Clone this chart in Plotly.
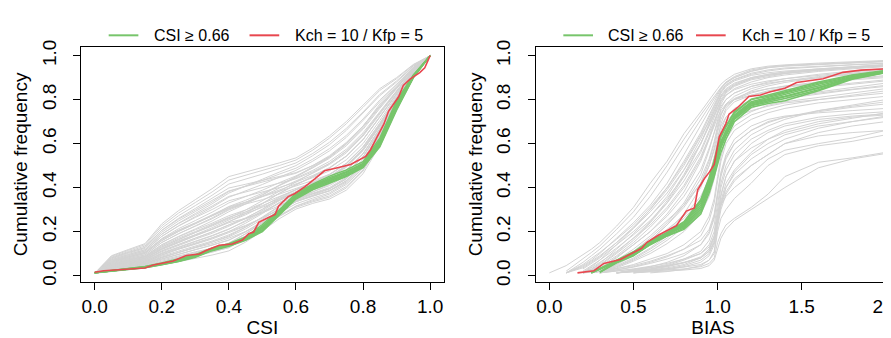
import plotly.graph_objects as go

N = None

# ---------------- Left panel: CSI ----------------
CSI_X = [0, .05, .1, .15, .2, .25, .3, .35, .4, .45, .5, .55, .6, .65, .7, .75, .8, .85, .9, .95, 1.0]

CSI_GRAY_01 = [.01, .019, .027, .034, .048, .062, .077, .093, .112, .152, .203, .258, .302, .328, .348, .388, .463, .592, .752, .901, 1]
CSI_GRAY_02 = [.01, .022, .031, .04, .056, .075, .092, .108, .126, .17, .216, .27, .315, .34, .362, .405, .48, .61, .76, .904, 1]
CSI_GRAY_03 = [.01, .027, .036, .046, .07, .09, .108, .124, .146, .18, .222, .268, .31, .335, .356, .398, .475, .6, .756, .902, 1]
CSI_GRAY_04 = [.01, .028, .04, .05, .074, .095, .115, .136, .16, .2, .246, .298, .342, .37, .395, .44, .515, .64, .778, .91, 1]
CSI_GRAY_05 = [.01, .03, .043, .054, .082, .105, .128, .15, .176, .212, .256, .304, .345, .374, .4, .446, .52, .64, .78, .912, 1]
CSI_GRAY_06 = [.01, .035, .048, .06, .092, .12, .142, .166, .195, .225, .262, .3, .336, .36, .385, .43, .505, .628, .772, .909, 1]
CSI_GRAY_07 = [.01, .038, .052, .065, .1, .128, .154, .18, .21, .25, .295, .34, .38, .41, .445, .492, .568, .678, .8, .92, 1]
CSI_GRAY_08 = [.01, .043, .058, .072, .112, .142, .17, .198, .23, .258, .29, .328, .36, .39, .42, .466, .54, .656, .79, .915, 1]
CSI_GRAY_09 = [.01, .046, .062, .077, .12, .152, .182, .21, .245, .276, .314, .356, .392, .425, .46, .51, .585, .692, .81, .924, 1]
CSI_GRAY_10 = [.01, .05, .068, .084, .13, .165, .196, .228, .262, .298, .34, .385, .425, .466, .51, .566, .64, .74, .836, .935, 1]
CSI_GRAY_11 = [.01, .054, .072, .088, .14, .176, .208, .238, .272, .298, .328, .36, .39, .418, .448, .5, .575, .685, .805, .922, 1]
CSI_GRAY_12 = [.01, .058, .076, .094, .15, .19, .224, .258, .298, .327, .36, .397, .43, .465, .505, .558, .634, .733, .832, .933, 1]
CSI_GRAY_13 = [.01, .06, .08, .1, .158, .2, .235, .27, .308, .332, .36, .39, .418, .445, .476, .526, .6, .705, .818, .927, 1]
CSI_GRAY_14 = [.01, .064, .086, .106, .168, .213, .25, .288, .33, .358, .388, .422, .453, .49, .533, .59, .665, .76, .848, .939, 1]
CSI_GRAY_15 = [.01, .068, .09, .112, .178, .226, .268, .31, .356, .384, .414, .447, .478, .52, .567, .628, .705, .79, .866, .946, 1]
CSI_GRAY_16 = [.01, .072, .095, .117, .188, .236, .276, .316, .36, .38, .4, .42, .44, .472, .51, .565, .64, .74, .836, .934, 1]
CSI_GRAY_17 = [.01, .076, .1, .123, .197, .248, .291, .334, .382, .406, .432, .461, .488, .529, .577, .637, .712, .798, .87, .948, 1]
CSI_GRAY_18 = [.01, .08, .105, .128, .206, .26, .305, .35, .398, .415, .432, .45, .468, .5, .54, .6, .68, .772, .855, .942, 1]
CSI_GRAY_19 = [.01, .083, .109, .134, .216, .272, .318, .365, .416, .438, .461, .486, .512, .555, .606, .669, .744, .824, .885, .954, 1]
CSI_GRAY_20 = [.01, .087, .114, .14, .226, .284, .332, .38, .434, .455, .478, .5, .525, .57, .625, .69, .765, .842, .895, .958, 1]
CSI_GRAY_21 = [.01, .09, .118, .145, .235, .295, .345, .395, .45, .47, .49, .512, .535, .58, .635, .70, .775, .85, .90, .96, 1]
CSI_GRAY_22 = [.01, .029, .04, .05, .076, .098, .118, .138, .162, .198, .242, .293, .336, .362, .387, .432, .506, .628, .772, .91, 1]
CSI_GRAY_23 = [.01, .036, .049, .061, .094, .12, .145, .17, .2, .238, .282, .33, .372, .41, .45, .5, .575, .685, .805, .922, 1]
CSI_GRAY_24 = [.01, .043, .058, .072, .112, .142, .17, .198, .23, .262, .3, .345, .382, .414, .447, .496, .57, .68, .802, .921, 1]
CSI_GRAY_25 = [.01, .05, .067, .083, .13, .164, .195, .225, .258, .282, .31, .342, .372, .4, .43, .478, .553, .666, .795, .918, 1]
CSI_GRAY_26 = [.01, .025, .035, .044, .065, .085, .104, .124, .148, .19, .238, .292, .336, .366, .394, .44, .514, .636, .776, .91, 1]
CSI_GRAY_27 = [.01, .022, .03, .038, .055, .072, .09, .106, .128, .168, .217, .272, .316, .345, .37, .414, .488, .612, .762, .905, 1]
CSI_GRAY_28 = [.01, .057, .076, .094, .15, .19, .226, .262, .302, .333, .368, .41, .448, .49, .537, .597, .672, .766, .852, .941, 1]
CSI_GRAY_29 = [.01, .04, .054, .067, .103, .131, .156, .182, .212, .246, .287, .332, .371, .402, .432, .48, .555, .668, .795, .918, 1]
CSI_GRAY_30 = [.01, .032, .044, .055, .084, .106, .126, .145, .17, .2, .24, .285, .326, .352, .376, .42, .495, .618, .766, .906, 1]
CSI_GRAY_31 = [.01, .047, .063, .078, .122, .155, .186, .217, .253, .288, .328, .373, .412, .448, .488, .542, .618, .722, .828, .932, 1]
CSI_GRAY_32 = [.01, .063, .084, .104, .165, .206, .24, .275, .312, .334, .358, .384, .408, .432, .46, .51, .585, .692, .81, .924, 1]
CSI_GRAY_33 = [.01, .031, .042, .053, .08, .104, .128, .152, .18, .22, .266, .316, .36, .39, .418, .465, .54, .657, .788, .916, 1]
CSI_GRAY_34 = [.01, .039, .052, .064, .098, .124, .148, .172, .2, .228, .262, .302, .34, .362, .384, .425, .5, .625, .77, .908, 1]
CSI_GRAY_35 = [.01, .045, .061, .076, .118, .15, .18, .21, .244, .282, .326, .374, .413, .45, .49, .543, .618, .72, .825, .93, 1]
CSI_GRAY_36 = [.01, .052, .07, .086, .135, .17, .2, .232, .265, .29, .318, .35, .378, .404, .432, .478, .552, .668, .795, .918, 1]
CSI_GRAY_37 = [.01, .061, .081, .1, .159, .201, .237, .273, .314, .342, .374, .409, .441, .478, .519, .574, .649, .746, .84, .936, 1]
CSI_GRAY_38 = [.01, .068, .09, .111, .178, .225, .264, .3, .34, .36, .38, .4, .425, .455, .49, .543, .618, .72, .825, .93, 1]
CSI_GRAY_39 = [.01, .034, .046, .058, .088, .112, .134, .157, .185, .22, .264, .312, .352, .381, .409, .454, .528, .647, .783, .913, 1]
CSI_GRAY_40 = [.01, .042, .056, .07, .108, .138, .165, .192, .224, .26, .302, .35, .39, .422, .458, .508, .583, .69, .81, .924, 1]
CSI_GRAY_41 = [.01, .024, .033, .042, .062, .082, .1, .12, .145, .19, .24, .295, .345, .38, .415, .465, .54, .66, .795, .918, 1]
CSI_GRAY_42 = [.01, .048, .064, .08, .125, .158, .185, .21, .24, .26, .285, .318, .35, .372, .395, .44, .515, .64, .778, .91, 1]
CSI_GRAY_43 = [.01, .079, .104, .127, .205, .256, .298, .34, .385, .405, .425, .445, .465, .5, .545, .605, .68, .77, .855, .94, 1]
CSI_GRAY_44 = [.01, .054, .072, .089, .14, .178, .212, .248, .29, .325, .365, .41, .45, .495, .54, .6, .678, .78, .862, .944, 1]
CSI_GRAY_45 = [.01, .064, .085, .105, .165, .205, .238, .27, .305, .325, .345, .37, .395, .42, .448, .495, .57, .68, .805, .92, 1]
CSI_GRAY_46 = [.01, .072, .095, .117, .188, .238, .282, .326, .375, .405, .438, .47, .5, .545, .595, .66, .737, .818, .88, .952, 1]

CSI_GREEN_1 = [.013, .022, .03, .038, .052, .068, .088, .118, .138, .165, .215, .285, .36, .4, .43, .46, .5, .6, .77, .905, 1]
CSI_GREEN_2 = [.012, .021, .029, .036, .05, .065, .085, .115, .135, .162, .205, .278, .352, .395, .425, .455, .495, .59, .76, .9, 1]
CSI_GREEN_3 = [.014, .023, .031, .04, .055, .072, .092, .122, .142, .17, .225, .292, .368, .41, .445, .472, .51, .615, .785, .91, 1]
CSI_GREEN_4 = [.013, .022, .029, .037, .051, .066, .086, .12, .14, .168, .22, .288, .362, .405, .438, .468, .505, .605, .775, .906, 1]
CSI_GREEN_5 = [.012, .02, .028, .035, .049, .064, .083, .113, .133, .16, .2, .275, .348, .39, .42, .45, .49, .585, .752, .9, 1]
CSI_GREEN_6 = [.014, .024, .032, .041, .057, .075, .095, .125, .145, .175, .232, .298, .375, .415, .452, .48, .518, .625, .795, .912, 1]
CSI_GREEN_7 = [.013, .023, .031, .039, .054, .07, .09, .12, .14, .168, .218, .29, .365, .408, .44, .47, .508, .61, .78, .908, 1]
CSI_GREEN_8 = [.012, .021, .029, .037, .052, .067, .087, .116, .137, .163, .21, .282, .356, .398, .432, .462, .5, .597, .765, .903, 1]

CSI_RED_X = [0, .027, .15, .175, .234, .273, .312, .332, .371, .41, .44, .459, .474, .489, .518, .538, .548, .577,
             .597, .626, .656, .685, .724, .763, .808, .822, .842, .862, .876, .906, .92, .94, .969, .984, 1.0]
CSI_RED_Y = [.015, .022, .034, .048, .066, .091, .098, .114, .138, .143, .161, .19, .198, .242, .264, .278, .315, .359,
             .373, .403, .439, .476, .49, .505, .542, .571, .63, .688, .747, .813, .864, .893, .923, .945, 1.0]

# ---------------- Right panel: BIAS ----------------
BIAS_X = [0, .1, .2, .25, .3, .4, .5, .6, .7, .8, .9, .95, .98, 1.0, 1.02, 1.05, 1.1, 1.2, 1.3, 1.4, 1.6, 1.8, 2.0]

BIAS_GRAY_A1 = [.012, .045, .095, .12, .15, .225, .31, .42, .52, .645, .745, .8, .83, .85, .87, .89, .915, .94, .952, .958, .966, .972, .978]
BIAS_GRAY_A2 = [N, .02, .075, .105, .135, .21, .29, .39, .5, .62, .73, .785, .815, .835, .855, .88, .905, .935, .948, .955, .962, .968, .975]
BIAS_GRAY_A3 = [N, .012, .06, .09, .12, .19, .265, .36, .47, .59, .71, .77, .805, .83, .852, .878, .9, .928, .945, .952, .96, .966, .972]
BIAS_GRAY_A4 = [N, .012, .045, .07, .1, .17, .24, .32, .42, .55, .68, .75, .79, .82, .848, .875, .9, .93, .946, .954, .962, .968, .975]
BIAS_GRAY_A5 = [N, N, .015, .04, .07, .14, .215, .3, .4, .52, .65, .73, .775, .81, .84, .868, .892, .92, .935, .944, .952, .96, .966]
BIAS_GRAY_A6 = [N, N, .012, .03, .055, .12, .19, .27, .36, .48, .62, .71, .76, .795, .83, .86, .885, .91, .922, .93, .94, .95, .958]
BIAS_GRAY_A7 = [N, N, .012, .025, .045, .1, .16, .24, .33, .45, .6, .69, .745, .785, .82, .85, .875, .9, .915, .925, .937, .948, .955]
BIAS_GRAY_B1 = [N, N, .012, .02, .035, .08, .14, .2, .28, .38, .52, .62, .69, .74, .78, .82, .85, .88, .9, .912, .928, .94, .95]
BIAS_GRAY_B2 = [N, N, N, .012, .025, .065, .11, .17, .24, .33, .46, .57, .65, .71, .76, .8, .83, .86, .88, .895, .915, .93, .942]
BIAS_GRAY_B3 = [N, N, .012, .018, .03, .07, .12, .18, .25, .32, .42, .52, .6, .67, .73, .78, .815, .85, .87, .885, .905, .92, .935]
BIAS_GRAY_B4 = [N, N, N, .012, .02, .05, .09, .14, .2, .28, .4, .5, .58, .65, .71, .76, .8, .84, .862, .878, .9, .918, .93]
BIAS_GRAY_B5 = [N, N, N, N, .012, .04, .075, .12, .17, .24, .35, .45, .54, .62, .69, .75, .79, .82, .84, .855, .875, .895, .91]
BIAS_GRAY_B6 = [N, N, .012, .02, .032, .062, .1, .15, .21, .27, .36, .44, .52, .6, .66, .72, .76, .8, .82, .835, .855, .87, .885]
BIAS_GRAY_B7 = [N, N, N, .012, .02, .045, .08, .125, .18, .24, .32, .4, .48, .57, .64, .7, .74, .78, .8, .812, .83, .85, .865]
BIAS_GRAY_B8 = [N, N, N, N, .012, .035, .065, .1, .145, .2, .28, .36, .44, .53, .6, .66, .7, .745, .775, .79, .81, .83, .85]
BIAS_GRAY_B9 = [N, N, .012, .015, .025, .055, .09, .14, .2, .26, .34, .42, .5, .58, .64, .69, .72, .75, .77, .785, .8, .815, .83]
BIAS_GRAY_B10 = [N, N, N, .012, .018, .04, .07, .11, .16, .22, .3, .38, .46, .55, .62, .68, .72, .76, .79, .805, .825, .845, .86]
BIAS_GRAY_C1 = [N, N, N, N, .012, .025, .04, .06, .085, .12, .18, .25, .33, .43, .52, .6, .66, .71, .74, .76, .785, .8, .815]
BIAS_GRAY_C2 = [N, N, N, N, N, .012, .025, .04, .06, .09, .14, .2, .27, .37, .46, .54, .6, .66, .7, .72, .745, .765, .78]
BIAS_GRAY_C3 = [N, N, N, .012, .018, .03, .045, .065, .09, .12, .16, .21, .28, .38, .47, .55, .62, .68, .71, .725, .74, .75, .76]
BIAS_GRAY_C4 = [N, N, N, N, N, .012, .02, .03, .045, .07, .1, .14, .2, .3, .4, .48, .55, .62, .66, .69, .72, .735, .745]
BIAS_GRAY_C5 = [N, N, N, N, .012, .02, .03, .042, .055, .075, .1, .13, .18, .27, .36, .45, .52, .6, .65, .68, .71, .725, .735]
BIAS_GRAY_C6 = [N, N, N, N, N, N, .012, .02, .03, .045, .07, .1, .15, .25, .34, .42, .48, .56, .62, .66, .7, .72, .73]
BIAS_GRAY_C7 = [N, N, N, N, N, .012, .018, .025, .035, .05, .08, .12, .17, .26, .33, .4, .46, .53, .58, .62, .67, .7, .725]
BIAS_GRAY_C8 = [N, N, N, N, N, N, N, .012, .018, .028, .045, .07, .11, .22, .3, .37, .43, .5, .55, .6, .65, .68, .7]
BIAS_GRAY_D1 = [N, N, N, N, N, .012, .016, .02, .024, .03, .04, .055, .08, .15, .19, .23, .26, .31, .37, .45, .515, .535, .56]
BIAS_GRAY_D2 = [N, N, N, N, N, N, .012, .016, .02, .025, .032, .045, .07, .12, .17, .21, .25, .3, .35, .4, .49, .53, .555]
BIAS_GRAY_D3 = [N, N, N, N, N, .012, .018, .024, .03, .038, .05, .07, .1, .2, .26, .3, .35, .42, .5, .55, .59, .61, .64]
BIAS_GRAY_D4 = [N, N, N, N, .012, .02, .028, .036, .045, .06, .08, .11, .15, .26, .32, .36, .4, .46, .53, .57, .6, .625, .66]
BIAS_GRAY_E1 = [N, .012, .05, .078, .105, .165, .23, .31, .4, .51, .64, .72, .77, .805, .835, .865, .89, .915, .93, .94, .95, .958, .965]
BIAS_GRAY_E2 = [N, N, .03, .055, .08, .14, .2, .27, .35, .45, .57, .66, .72, .76, .8, .835, .865, .895, .91, .92, .935, .945, .955]
BIAS_GRAY_E3 = [N, N, .012, .035, .06, .11, .17, .23, .31, .41, .54, .63, .7, .75, .79, .83, .86, .89, .905, .918, .932, .944, .952]
BIAS_GRAY_E4 = [N, N, .02, .045, .07, .125, .185, .25, .33, .43, .56, .65, .7, .74, .77, .8, .83, .86, .875, .885, .9, .915, .928]
BIAS_GRAY_E5 = [N, N, N, .012, .03, .085, .14, .2, .27, .36, .48, .58, .65, .7, .74, .77, .8, .83, .85, .86, .875, .89, .9]
BIAS_GRAY_E6 = [N, .012, .04, .065, .09, .15, .215, .29, .375, .48, .6, .68, .73, .765, .795, .82, .845, .87, .885, .895, .91, .925, .94]
BIAS_GRAY_F1 = [N, N, N, N, .012, .03, .05, .075, .1, .14, .2, .27, .35, .45, .54, .62, .68, .73, .755, .775, .8, .82, .84]
BIAS_GRAY_F2 = [N, N, N, N, N, .012, .022, .035, .05, .075, .11, .16, .23, .33, .42, .5, .57, .64, .68, .71, .75, .775, .8]
BIAS_GRAY_F3 = [N, N, N, N, N, N, .012, .018, .026, .04, .06, .09, .14, .24, .32, .4, .47, .55, .6, .64, .68, .7, .72]
BIAS_GRAY_F4 = [N, N, N, N, .012, .024, .038, .055, .075, .1, .14, .19, .26, .36, .45, .53, .6, .66, .695, .72, .75, .77, .79]
BIAS_GRAY_F5 = [N, N, N, N, N, .012, .02, .028, .04, .058, .085, .12, .18, .28, .37, .45, .52, .58, .62, .65, .69, .715, .74]
BIAS_GRAY_F6 = [N, N, N, N, N, .012, .02, .03, .042, .058, .08, .11, .16, .25, .32, .38, .44, .5, .55, .6, .635, .65, .66]
BIAS_GRAY_G1 = [N, N, .012, .028, .05, .105, .17, .245, .34, .46, .6, .68, .735, .775, .81, .84, .865, .895, .91, .92, .935, .946, .955]
BIAS_GRAY_G2 = [N, .012, .035, .06, .085, .15, .22, .3, .39, .5, .63, .7, .75, .785, .815, .845, .87, .9, .915, .925, .94, .95, .96]
BIAS_GRAY_G3 = [N, N, N, .012, .022, .06, .105, .16, .23, .32, .44, .53, .61, .68, .73, .775, .805, .835, .85, .862, .88, .895, .905]
BIAS_GRAY_G4 = [N, N, .012, .022, .04, .09, .15, .22, .3, .4, .53, .62, .68, .72, .75, .78, .8, .82, .835, .845, .86, .875, .89]
BIAS_GRAY_G5 = [N, N, N, N, .012, .05, .1, .16, .23, .31, .42, .5, .57, .63, .68, .72, .75, .78, .8, .815, .835, .855, .875]

BIAS_GREEN_1 = [N, N, N, .012, .03, .066, .1, .15, .19, .235, .33, .43, .5, .56, .61, .66, .73, .79, .81, .83, .87, .905, .928]
BIAS_GREEN_2 = [N, N, N, .012, .028, .062, .095, .145, .185, .225, .31, .41, .48, .54, .6, .65, .72, .78, .8, .815, .855, .9, .926]
BIAS_GREEN_3 = [N, N, N, N, .014, .058, .09, .14, .18, .215, .29, .39, .46, .52, .58, .635, .71, .772, .79, .805, .845, .895, .924]
BIAS_GREEN_4 = [N, N, N, .013, .032, .07, .108, .158, .196, .245, .345, .445, .52, .58, .63, .675, .74, .8, .815, .835, .875, .91, .93]
BIAS_GREEN_5 = [N, N, N, N, .016, .06, .092, .142, .18, .21, .28, .375, .45, .5, .56, .62, .7, .765, .782, .795, .84, .892, .922]
BIAS_GREEN_6 = [N, N, N, .012, .03, .068, .104, .155, .194, .24, .34, .44, .52, .59, .64, .68, .745, .802, .82, .84, .88, .912, .933]
BIAS_GREEN_7 = [N, N, N, N, .015, .064, .098, .148, .188, .23, .32, .42, .49, .55, .6, .65, .725, .785, .805, .822, .862, .902, .928]
BIAS_GREEN_8 = [N, N, N, .013, .03, .065, .102, .152, .19, .22, .3, .4, .47, .53, .59, .64, .715, .775, .795, .812, .852, .898, .925]

BIAS_RED_X = [.167, .265, .324, .422, .5, .549, .578, .647, .755, .794, .814, .862, .882, .921, .951, .98, 1.01, 1.049,
              1.068, 1.118, 1.186, 1.255, 1.314, 1.4, 1.47, 1.627, 1.745, 1.853, 2.0]
BIAS_RED_Y = [.012, .022, .055, .073, .105, .124, .15, .183, .227, .27, .293, .307, .39, .44, .47, .505, .631, .69,
              .734, .763, .814, .821, .836, .852, .878, .895, .924, .934, .94]

Y_TICKS = [0, .2, .4, .6, .8, 1.0]
CSI_TICKS = [0, .2, .4, .6, .8, 1.0]
BIAS_TICKS = [0, .5, 1.0, 1.5, 2.0]

LEGEND_GREEN = "CSI \u2265 0.66"
LEGEND_RED = "Kch = 10 / Kfp = 5"

CSI_GRAY = [CSI_GRAY_01, CSI_GRAY_02, CSI_GRAY_03, CSI_GRAY_04, CSI_GRAY_05, CSI_GRAY_06, CSI_GRAY_07, CSI_GRAY_08,
            CSI_GRAY_09, CSI_GRAY_10, CSI_GRAY_11, CSI_GRAY_12, CSI_GRAY_13, CSI_GRAY_14, CSI_GRAY_15, CSI_GRAY_16,
            CSI_GRAY_17, CSI_GRAY_18, CSI_GRAY_19, CSI_GRAY_20, CSI_GRAY_21, CSI_GRAY_22, CSI_GRAY_23, CSI_GRAY_24,
            CSI_GRAY_25, CSI_GRAY_26, CSI_GRAY_27, CSI_GRAY_28, CSI_GRAY_29, CSI_GRAY_30, CSI_GRAY_31, CSI_GRAY_32,
            CSI_GRAY_33, CSI_GRAY_34, CSI_GRAY_35, CSI_GRAY_36, CSI_GRAY_37, CSI_GRAY_38, CSI_GRAY_39, CSI_GRAY_40,
            CSI_GRAY_41, CSI_GRAY_42, CSI_GRAY_43, CSI_GRAY_44, CSI_GRAY_45, CSI_GRAY_46]
CSI_GREEN = [CSI_GREEN_1, CSI_GREEN_2, CSI_GREEN_3, CSI_GREEN_4, CSI_GREEN_5, CSI_GREEN_6, CSI_GREEN_7, CSI_GREEN_8]
BIAS_GRAY = [BIAS_GRAY_A1, BIAS_GRAY_A2, BIAS_GRAY_A3, BIAS_GRAY_A4, BIAS_GRAY_A5, BIAS_GRAY_A6, BIAS_GRAY_A7,
             BIAS_GRAY_B1, BIAS_GRAY_B2, BIAS_GRAY_B3, BIAS_GRAY_B4, BIAS_GRAY_B5, BIAS_GRAY_B6, BIAS_GRAY_B7,
             BIAS_GRAY_B8, BIAS_GRAY_B9, BIAS_GRAY_B10, BIAS_GRAY_C1, BIAS_GRAY_C2, BIAS_GRAY_C3, BIAS_GRAY_C4,
             BIAS_GRAY_C5, BIAS_GRAY_C6, BIAS_GRAY_C7, BIAS_GRAY_C8, BIAS_GRAY_D1, BIAS_GRAY_D2, BIAS_GRAY_D3,
             BIAS_GRAY_D4, BIAS_GRAY_E1, BIAS_GRAY_E2, BIAS_GRAY_E3, BIAS_GRAY_E4, BIAS_GRAY_E5, BIAS_GRAY_E6,
             BIAS_GRAY_F1, BIAS_GRAY_F2, BIAS_GRAY_F3, BIAS_GRAY_F4, BIAS_GRAY_F5, BIAS_GRAY_F6,
             BIAS_GRAY_G1, BIAS_GRAY_G2, BIAS_GRAY_G3, BIAS_GRAY_G4, BIAS_GRAY_G5]
BIAS_GREEN = [BIAS_GREEN_1, BIAS_GREEN_2, BIAS_GREEN_3, BIAS_GREEN_4, BIAS_GREEN_5, BIAS_GREEN_6, BIAS_GREEN_7,
              BIAS_GREEN_8]

# ---------------- styling ----------------
W, H = 891, 338
FONT = "Liberation Sans, Arial, Helvetica, sans-serif"
GRAY = "#D3D3D3"
GREEN = "#77C56B"
RED = "#E8474F"

fig = go.Figure()


def add_lines(xs, rows, color, width, xa, ya):
    for r in rows:
        fig.add_trace(go.Scatter(x=xs, y=r, mode="lines", line=dict(color=color, width=width),
                                 xaxis=xa, yaxis=ya, showlegend=False, hoverinfo="skip"))


add_lines(CSI_X, CSI_GRAY, GRAY, 1, "x", "y")
add_lines(CSI_X, CSI_GREEN, GREEN, 1.5, "x", "y")
fig.add_trace(go.Scatter(x=CSI_RED_X, y=CSI_RED_Y, mode="lines", line=dict(color=RED, width=1.6),
                         xaxis="x", yaxis="y", showlegend=False, name=LEGEND_RED))

add_lines(BIAS_X, BIAS_GRAY, GRAY, 1, "x2", "y2")
add_lines(BIAS_X, BIAS_GREEN, GREEN, 1.5, "x2", "y2")
fig.add_trace(go.Scatter(x=BIAS_RED_X, y=BIAS_RED_Y, mode="lines", line=dict(color=RED, width=1.6),
                         xaxis="x2", yaxis="y2", showlegend=False, name=LEGEND_RED))

tickfont = dict(family=FONT, size=19, color="black")
titlefont = dict(family=FONT, size=19, color="black")
ydom = [(H - 276) / H, (H - 33) / H]
common_axis = dict(showgrid=False, zeroline=False, ticks="outside", ticklen=7, tickwidth=1, tickcolor="black",
                   showline=True, linecolor="black", linewidth=1, tickfont=tickfont)

fig.update_layout(
    width=W, height=H, margin=dict(l=0, r=0, t=0, b=0),
    paper_bgcolor="white", plot_bgcolor="white", showlegend=False,
    xaxis=dict(domain=[74 / W, 440 / W], range=[-0.04, 1.04], tickvals=CSI_TICKS, tickformat=".1f",
               mirror=True, anchor="y",
               title=dict(text="CSI", font=titlefont, standoff=4), **common_axis),
    yaxis=dict(domain=ydom, range=[-0.0296, 1.0396], tickvals=Y_TICKS, tickformat=".1f", tickangle=-90,
               mirror=True, anchor="x", ticklabelstandoff=10,
               title=dict(text="Cumulative frequency", font=titlefont, standoff=5), **common_axis),
    xaxis2=dict(domain=[533.3 / W, 1.0], range=[-0.08, 2.025], tickvals=BIAS_TICKS, tickformat=".1f",
                mirror=True, anchor="y2", ticklabeloverflow="allow",
                title=dict(text="BIAS", font=titlefont, standoff=4), **common_axis),
    yaxis2=dict(domain=ydom, range=[-0.0296, 1.0396], tickvals=Y_TICKS, tickformat=".1f", tickangle=-90,
                mirror=False, anchor="x2", ticklabelstandoff=10,
                title=dict(text="Cumulative frequency", font=titlefont, standoff=5), **common_axis),
)

# legends drawn above each panel (line sample + label)
LEG_Y = 21
legend_items = [
    (101.7, 131.7, 145.7, GREEN, LEGEND_GREEN),
    (244.0, 274.0, 288.0, RED, LEGEND_RED),
    (561.0, 591.0, 604.3, GREEN, LEGEND_GREEN),
    (695.0, 725.0, 739.0, RED, LEGEND_RED),
]
for x0, x1, xt, col, txt in legend_items:
    fig.add_shape(type="line", xref="paper", yref="paper", x0=x0 / W, x1=x1 / W,
                  y0=(H - LEG_Y) / H, y1=(H - LEG_Y) / H, line=dict(color=col, width=2))
    fig.add_annotation(xref="paper", yref="paper", x=xt / W, y=(H - LEG_Y) / H, text=txt,
                       showarrow=False, xanchor="left", yanchor="middle",
                       font=dict(family=FONT, size=16, color="black"))

fig.write_html("out.html")
